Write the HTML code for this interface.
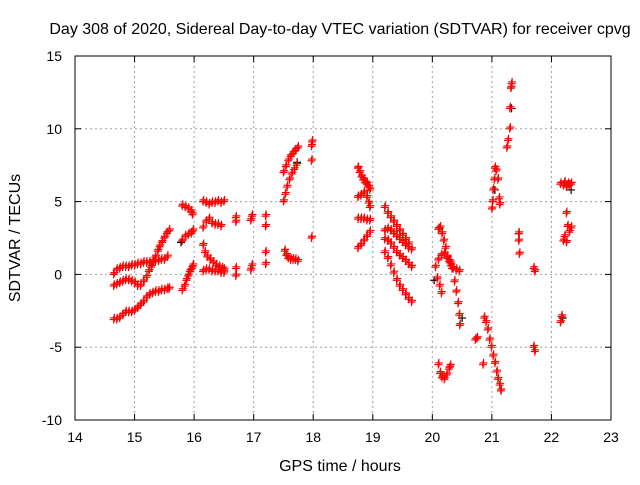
<!DOCTYPE html>
<html><head><meta charset="utf-8"><style>
body{margin:0;background:#fff}
svg text{font-family:"Liberation Sans",sans-serif;font-size:14px;fill:#000}
svg text.big{font-size:16px}
</style></head><body>
<svg id="chart" width="640" height="480" xmlns="http://www.w3.org/2000/svg">
<text class="big" x="340" y="34" text-anchor="middle">Day 308 of 2020, Sidereal Day-to-day VTEC variation (SDTVAR) for receiver cpvg</text>
<text class="big" transform="translate(20,238) rotate(-90)" text-anchor="middle">SDTVAR / TECUs</text>
<text class="big" x="340" y="471" text-anchor="middle">GPS time / hours</text>
<g id="grid"></g><g id="axes"></g><g id="marks"></g>
</svg>
<script>
const xTicks=[14,15,16,17,18,19,20,21,22,23];
const yTicks=[-10,-5,0,5,10,15];
const trackA=[[14.65,0.0],[14.7,0.3],[14.75,0.4],[14.8,0.5],[14.85,0.5],[14.9,0.5],[14.95,0.6],[15.0,0.6],[15.05,0.7],[15.1,0.7],[15.15,0.8],[15.2,0.8],[15.25,0.8],[15.3,0.8],[15.35,0.9],[15.4,0.9],[15.45,1.0],[15.5,1.0],[15.55,1.2]];
const trackB=[[14.65,-0.8],[14.7,-0.7],[14.75,-0.6],[14.8,-0.5],[14.85,-0.4],[14.9,-0.4],[14.95,-0.5],[15.0,-0.6],[15.05,-0.8],[15.1,-0.8],[15.15,-0.5],[15.2,-0.2],[15.24,0.2],[15.28,0.5],[15.32,0.9],[15.35,1.2],[15.39,1.6],[15.42,1.9],[15.46,2.2],[15.5,2.5],[15.54,2.8],[15.58,3.0]];
const trackC=[[14.65,-3.1],[14.7,-3.1],[14.75,-3.0],[14.8,-2.8],[14.85,-2.6],[14.9,-2.6],[14.95,-2.6],[15.0,-2.5],[15.05,-2.3],[15.1,-2.1],[15.15,-1.9],[15.2,-1.6],[15.25,-1.4],[15.3,-1.3],[15.35,-1.2],[15.4,-1.2],[15.45,-1.1],[15.5,-1.1],[15.55,-1.0],[15.58,-1.0]];
const trackD=[[15.8,4.7],[15.85,4.6],[15.9,4.5],[15.95,4.3],[15.97,4.1],[15.8,2.3],[15.85,2.6],[15.9,2.7],[15.95,2.8],[15.98,3.0],[15.8,-1.1],[15.84,-0.8],[15.87,-0.4],[15.9,-0.1],[15.93,0.2],[15.96,0.4],[15.98,0.6]];
const trackE=[[16.15,5.0],[16.2,4.9],[16.25,4.8],[16.3,4.9],[16.35,4.9],[16.4,5.0],[16.45,4.9],[16.5,5.0],[16.15,3.2],[16.2,3.6],[16.25,3.8],[16.3,3.5],[16.35,3.4],[16.4,3.4],[16.45,3.3],[16.15,2.0],[16.18,1.5],[16.22,1.2],[16.27,1.0],[16.32,0.8],[16.37,0.6],[16.42,0.5],[16.47,0.4],[16.5,0.3],[16.15,0.2],[16.2,0.3],[16.25,0.3],[16.3,0.2],[16.35,0.2],[16.4,0.2],[16.45,0.1],[16.5,0.1]];
const trackF=[[16.7,3.9],[16.7,3.6],[16.7,0.4],[16.7,-0.1],[16.95,3.7],[16.97,4.0],[16.95,0.3],[16.97,0.6],[17.2,4.0],[17.2,3.3],[17.2,1.5],[17.2,0.7]];
const trackG=[[17.5,7.0],[17.54,7.4],[17.58,7.8],[17.62,8.1],[17.66,8.3],[17.7,8.5],[17.74,8.7],[17.5,5.0],[17.53,5.5],[17.56,6.0],[17.6,6.5],[17.64,6.9],[17.68,7.2],[17.72,7.5],[17.52,1.6],[17.55,1.3],[17.58,1.1],[17.62,1.0],[17.66,1.0],[17.7,1.0],[17.74,0.9],[17.97,8.8],[17.98,9.1],[17.97,7.8],[17.97,2.5]];
const trackH=[[18.75,7.3],[18.78,7.0],[18.81,6.7],[18.84,6.5],[18.87,6.3],[18.9,6.2],[18.93,6.0],[18.95,5.8],[18.75,5.3],[18.8,5.4],[18.85,5.6],[18.9,5.3],[18.93,4.9],[18.95,4.6],[18.75,3.8],[18.8,3.8],[18.85,3.8],[18.9,3.7],[18.95,3.7],[18.75,1.8],[18.8,2.0],[18.85,2.3],[18.9,2.6],[18.95,2.9]];
const trackI=[[19.2,4.6],[19.25,4.2],[19.3,3.9],[19.35,3.6],[19.4,3.3],[19.45,3.0],[19.5,2.7],[19.55,2.4],[19.6,2.1],[19.65,1.7],[19.2,3.0],[19.25,3.1],[19.3,3.0],[19.35,2.8],[19.4,2.6],[19.45,2.4],[19.5,2.2],[19.55,2.0],[19.6,1.8],[19.2,2.4],[19.25,2.3],[19.3,2.1],[19.35,1.8],[19.4,1.5],[19.45,1.3],[19.5,1.1],[19.55,0.9],[19.6,0.7],[19.65,0.5],[19.2,1.5],[19.25,1.1],[19.3,0.6],[19.35,0.1],[19.4,-0.4],[19.45,-0.8],[19.5,-1.1],[19.55,-1.4],[19.6,-1.7],[19.65,-1.9]];
const trackJ=[[20.1,3.1],[20.13,3.2],[20.16,2.8],[20.19,2.3],[20.22,1.8],[20.25,1.2],[20.28,0.9],[20.31,0.6],[20.35,0.4],[20.4,0.3],[20.45,0.2],[20.1,1.0],[20.15,1.3],[20.2,1.4],[20.25,1.1],[20.3,0.8],[20.33,0.4],[20.37,-0.5],[20.4,-1.2],[20.43,-2.0],[20.45,-2.8],[20.46,-3.5],[20.05,0.5],[20.08,-0.3],[20.12,-0.8],[20.15,-1.3],[20.1,-6.2],[20.13,-6.8],[20.16,-7.1],[20.2,-7.2],[20.24,-6.9],[20.28,-6.5],[20.3,-6.3]];
const trackK=[[20.72,-4.5],[20.75,-4.4],[20.85,-6.2],[20.87,-3.0],[20.9,-3.3],[20.93,-3.8],[20.96,-4.5],[20.99,-5.0],[21.02,-5.6],[21.05,-6.1],[21.08,-6.7],[21.1,-7.2],[21.13,-7.6],[21.15,-8.0]];
const trackL=[[21.0,4.5],[21.01,5.0],[21.02,5.8],[21.04,6.5],[21.05,7.3],[21.07,7.1],[21.1,6.5],[21.12,5.2],[21.13,4.8],[21.25,8.7],[21.27,9.2],[21.3,10.0],[21.3,11.4],[21.32,12.8],[21.33,13.1],[21.45,2.8],[21.45,2.3],[21.46,1.4],[21.7,0.4],[21.72,0.2],[21.7,-5.0],[21.72,-5.3]];
const trackM=[[22.15,6.2],[22.2,6.1],[22.22,6.3],[22.25,6.0],[22.28,6.2],[22.3,6.1],[22.33,6.2],[22.25,4.2],[22.27,3.3],[22.3,2.9],[22.33,3.2],[22.2,2.3],[22.22,2.6],[22.25,2.2],[22.15,-3.3],[22.17,-2.9]];
const blackPts=[[15.78,2.2],[17.73,7.7],[18.76,7.4],[20.03,-0.4],[20.5,-3.0],[21.05,5.8],[21.33,11.4],[21.32,12.8],[21.45,2.8],[22.19,-3.0],[22.33,5.8]];
const tracks=[trackA,trackB,trackC,trackD,trackE,trackF,trackG,trackH,trackI,trackJ,trackK,trackL,trackM];
const L=75,R=611,T=56,B=420;
const xs=t=>L+(t-14)/9*(R-L);
const ys=v=>B-(v+10)/25*(B-T);
const NS="http://www.w3.org/2000/svg";
function mk(tag,attrs,parent){const e=document.createElementNS(NS,tag);for(const k in attrs)e.setAttribute(k,attrs[k]);parent.appendChild(e);return e;}
const grid=document.getElementById('grid'),axes=document.getElementById('axes'),marks=document.getElementById('marks');
xTicks.forEach(t=>{const x=xs(t);
 if(t>14&&t<23){const g=mk('line',{x1:x,x2:x,y1:T,y2:B,stroke:'#a0a0a0','stroke-dasharray':'2,3'},grid);
 
 }
 mk('line',{x1:x,x2:x,y1:B,y2:B-6,stroke:'#000'},axes);mk('line',{x1:x,x2:x,y1:T,y2:T+6,stroke:'#000'},axes);
 const tx=mk('text',{x:x,y:B+22,'text-anchor':'middle'},axes);tx.textContent=t;
 
 });
yTicks.forEach(v=>{const y=ys(v);
 if(v>-10&&v<15){const g=mk('line',{x1:L,x2:R,y1:y,y2:y,stroke:'#a0a0a0','stroke-dasharray':'2,3'},grid);
 
 }
 mk('line',{x1:L,x2:L+6,y1:y,y2:y,stroke:'#000'},axes);mk('line',{x1:R,x2:R-6,y1:y,y2:y,stroke:'#000'},axes);
 const tx=mk('text',{x:L-13,y:y+5,'text-anchor':'end'},axes);tx.textContent=v;
 
 });
const fr=mk('rect',{x:L,y:T,width:R-L,height:B-T,fill:'none',stroke:'#000'},axes);


function plus(t,v,c){const x=xs(t),y=ys(v);
 const p=mk('path',{d:`M${x-4},${y}H${x+4}M${x},${y-4}V${y+4}`,stroke:c,'stroke-width':1.2,fill:'none'},marks);
 
 }
blackPts.forEach(p=>plus(p[0],p[1],'#000'));
tracks.forEach(tr=>tr.forEach(p=>{plus(p[0],p[1],'#ff0000');plus(p[0]+0.01,p[1]+0.12,'#ff0000');}));
</script>
</body></html>
